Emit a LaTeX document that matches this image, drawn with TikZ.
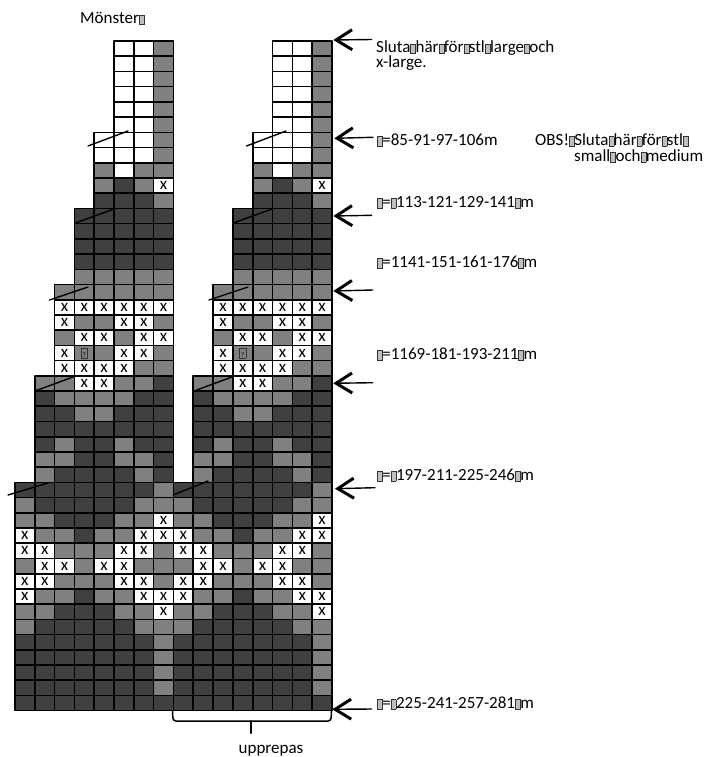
\documentclass[tikz,border=0pt]{standalone}
\usepackage{fontspec}
\setmainfont{Carlito}
\usetikzlibrary{arrows.meta}
\definecolor{midgrey}{HTML}{808080}
\definecolor{darkgrey}{HTML}{404040}
\newcommand{\tofu}{\makebox[4pt][l]{\raisebox{-0.5pt}{\setlength{\fboxsep}{0pt}\setlength{\fboxrule}{0.6pt}\fcolorbox{black!80}{black!25}{\rule{0pt}{9pt}\rule{4.4pt}{0pt}}}}\kern1.2pt}
\newcommand{\qbox}{\raisebox{-0.5pt}{\setlength{\fboxsep}{0pt}\setlength{\fboxrule}{0.6pt}\fcolorbox{black!80}{midgrey}{\makebox[6pt]{\rule{0pt}{9pt}\fontsize{7}{7}\selectfont ?}}}}
\newcommand{\chartrows}{%
  {n,n,n,n,n,w,w,g},{n,n,n,n,n,w,w,g},{n,n,n,n,n,w,w,g},{n,n,n,n,n,w,w,g},
  {n,n,n,n,n,w,w,g},{n,n,n,n,n,w,w,g},{n,n,n,n,w,w,w,g},{n,n,n,n,w,w,w,g},
  {n,n,n,n,g,w,g,g},{n,n,n,n,g,d,g,x},{n,n,n,n,d,d,d,g},{n,n,n,d,d,d,d,d},
  {n,n,n,d,d,d,d,d},{n,n,n,d,d,d,d,d},{n,n,n,d,d,d,d,d},{n,n,n,g,g,g,g,g},
  {n,n,g,g,g,g,g,g},{n,n,x,x,x,x,x,x},{n,n,x,g,g,x,x,g},{n,n,g,x,x,g,x,x},
  {n,n,x,q,g,x,x,g},{n,n,x,x,x,x,g,g},{n,g,g,x,x,g,g,d},{n,d,g,g,g,g,d,d},
  {n,d,d,g,g,d,d,d},{n,d,d,d,d,d,d,d},{n,d,g,d,d,g,d,d},{n,g,g,d,d,g,g,d},
  {n,g,d,d,d,d,g,d},{d,d,d,d,d,d,d,g},{g,d,d,d,d,d,g,g},{g,g,d,d,d,g,g,x},
  {x,g,g,d,g,g,x,x},{x,x,g,g,g,x,x,g},{g,x,x,g,x,x,g,g},{x,x,g,g,g,x,x,g},
  {x,g,g,d,g,g,x,x},{g,g,d,d,d,g,g,x},{g,d,d,d,d,d,g,g},{d,d,d,d,d,d,d,g},
  {d,d,d,d,d,d,d,g},{d,d,d,d,d,d,d,g},{d,d,d,d,d,d,d,g},{d,d,d,d,d,d,d,d}}
\tikzset{
  gridcell/.style={draw=black,line width=1.6pt,inner sep=0pt,outer sep=0pt,
    minimum width=19.81pt,minimum height=15.22pt,anchor=north west,
    font=\fontsize{17}{17}\selectfont},
  celln/.style={draw=none},
  cellw/.style={fill=white},
  cellg/.style={fill=midgrey},
  celld/.style={fill=darkgrey},
  cellx/.style={fill=white,execute at begin node={\raisebox{-1.5pt}{x}}},
  cellq/.style={fill=midgrey,execute at begin node={\qbox}},
  sizelabel/.style={anchor=base west,inner sep=0pt,font=\fontsize{17}{17}\selectfont},
  markarrow/.style={line width=1.4pt,-{Straight Barb[length=16pt,width=20pt,line width=3pt]}}
}
\begin{document}
\begin{tikzpicture}[x=1pt,y=-1pt,line cap=round,line join=round]
  \useasboundingbox (0,0) rectangle (704,757);
  \foreach \side in {0,1}
    \foreach \cells [count=\row from 0] in \chartrows
      \foreach \kind [count=\col from 0] in \cells
        \node[gridcell,cell\kind] (cell\side-\row-\col)
          at ({15+(\side*8+\col)*19.81},{41+\row*15.22}) {};
  \draw[line width=1.4pt] (88,146) -- (128,131);
  \draw[line width=1.4pt] (76,222.7) -- (114,209);
  \draw[line width=1.4pt] (49.5,300) -- (88,287);
  \draw[line width=1.4pt] (35,391) -- (73,377);
  \draw[line width=1.4pt] (8,495) -- (48,483);
  \draw[line width=1.4pt] (246.5,146) -- (286,131);
  \draw[line width=1.4pt] (234,222.7) -- (272,209);
  \draw[line width=1.4pt] (209,300) -- (248,287);
  \draw[line width=1.4pt] (194,391) -- (232,377);
  \draw[line width=1.4pt] (173,495) -- (208,481);
  \coordinate (tail1) at (371.7,39.5);
  \coordinate (tip1) at (333.3,40);
  \coordinate (tail2) at (373,137.3);
  \coordinate (tip2) at (334.3,138.3);
  \coordinate (tail3) at (371.7,215.3);
  \coordinate (tip3) at (333.3,216);
  \coordinate (tail4) at (372.7,290);
  \coordinate (tip4) at (333.3,291);
  \coordinate (tail5) at (372.7,382.7);
  \coordinate (tip5) at (333.3,383.3);
  \coordinate (tail6) at (375,487.7);
  \coordinate (tip6) at (335,488.7);
  \coordinate (tail7) at (371.7,709);
  \coordinate (tip7) at (332.3,709.3);
  \draw[markarrow] (tail1) -- (tip1);
  \draw[markarrow] (tail2) -- (tip2);
  \draw[markarrow] (tail3) -- (tip3);
  \draw[markarrow] (tail4) -- (tip4);
  \draw[markarrow] (tail5) -- (tip5);
  \draw[markarrow] (tail6) -- (tip6);
  \draw[markarrow] (tail7) -- (tip7);
  \node[sizelabel] (title) at (80,24) {Mönster\tofu};
  \node[sizelabel] (endlarge) at (376,53) {Sluta\tofu här\tofu för\tofu stl\tofu large\tofu och};
  \node[sizelabel] (endlargeb) at (376,68) {x-large.};
  \node[sizelabel] (size85) at (377,145.5) {\tofu=85-91-97-106m};
  \node[sizelabel] (endsmall) at (535,145.5) {OBS!\tofu Sluta\tofu här\tofu för\tofu stl\tofu};
  \node[sizelabel] (endsmallb) at (574,161) {small\tofu och\tofu medium};
  \node[sizelabel] (size113) at (377,207) {\tofu=\tofu 113-121-129-141\tofu m};
  \node[sizelabel] (size141) at (377,267) {\tofu=1141-151-161-176\tofu m};
  \node[sizelabel] (size169) at (377,359) {\tofu=1169-181-193-211\tofu m};
  \node[sizelabel] (size197) at (377,480) {\tofu=\tofu 197-211-225-246\tofu m};
  \node[sizelabel] (size225) at (377,708.5) {\tofu=\tofu 225-241-257-281\tofu m};
  \coordinate (bracea) at (172.5,711);
  \coordinate (braceb) at (173,721);
  \coordinate (bracec) at (331,721);
  \coordinate (braced) at (331.5,711);
  \coordinate (bracemid) at (251,721);
  \coordinate (bracetip) at (251,733);
  \draw[line width=1.5pt,rounded corners=3pt] (bracea) -- (braceb) -- (bracec) -- (braced);
  \draw[line width=2pt] (bracemid) -- (bracetip);
  \node[sizelabel,anchor=base] (repeat) at (271,753) {upprepas};
\end{tikzpicture}
\end{document}
